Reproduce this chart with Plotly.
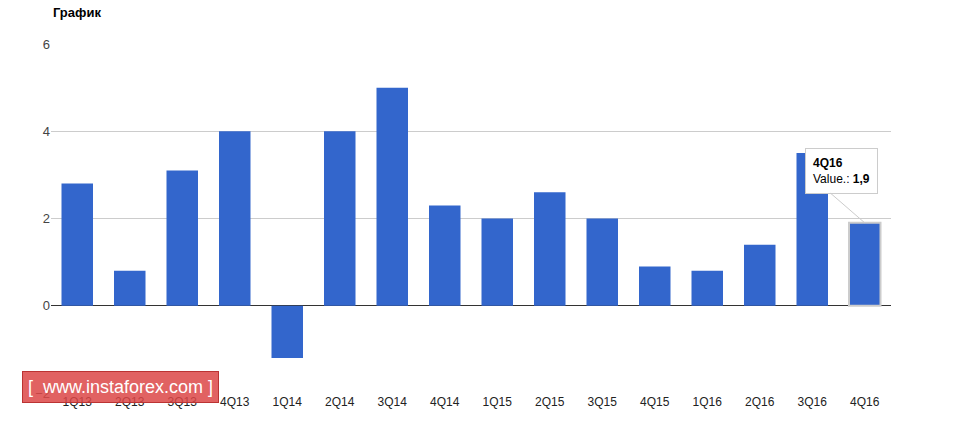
import plotly.graph_objects as go

categories = ["1Q13","2Q13","3Q13","4Q13","1Q14","2Q14","3Q14","4Q14",
              "1Q15","2Q15","3Q15","4Q15","1Q16","2Q16","3Q16","4Q16"]
values = [2.8,0.8,3.1,4.0,-1.2,4.0,5.0,2.3,2.0,2.6,2.0,0.9,0.8,1.4,3.5,1.9]
line_w = [0]*15 + [2]

fig = go.Figure(go.Bar(x=categories, y=values, marker_color="#3366cc",
                       marker_line=dict(color="#cccccc", width=line_w), width=0.6))
fig.update_layout(
    width=963, height=431, plot_bgcolor="white", paper_bgcolor="white",
    margin=dict(l=43, r=80, t=36, b=46), showlegend=False,
    font=dict(family="Arial, Liberation Sans", size=12, color="#222"),
    xaxis=dict(showgrid=False, ticks="", tickfont=dict(size=12, color="#222")),
    yaxis=dict(range=[-2, 6], dtick=2, gridcolor="#cccccc", zeroline=True,
               zerolinecolor="#333", zerolinewidth=1, tickfont=dict(size=13, color="#444")),
    annotations=[
        dict(text="<b>График</b>", xref="paper", yref="paper", x=0.0, y=1.0,
             yshift=22, xanchor="left", yanchor="bottom", showarrow=False,
             font=dict(size=13, color="#000")),
        dict(text="<b>4Q16</b><br>Value.: <b>1,9</b>", x="4Q16", y=1.9,
             ax=-60, ay=-52, align="left", showarrow=True, arrowcolor="#ccc",
             arrowhead=0, bgcolor="white", bordercolor="#ccc", borderwidth=1,
             borderpad=7, font=dict(size=12, color="#000"), xanchor="left"),
        dict(text="[  www.instaforex.com ]", xref="paper", yref="paper",
             x=-0.035, y=-0.03, xanchor="left", yanchor="bottom", showarrow=False,
             bgcolor="rgba(220,70,70,0.85)", bordercolor="#bb3333", borderpad=5,
             font=dict(size=18, color="white")),
    ],
)
fig.write_html("out.html")
